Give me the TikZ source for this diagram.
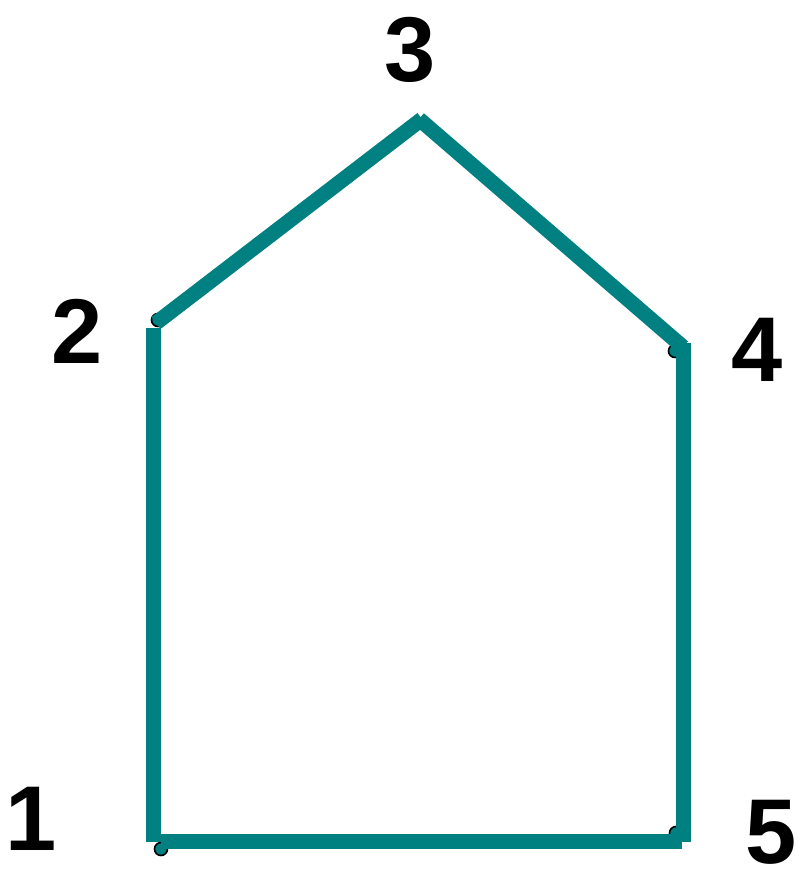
\documentclass[tikz,border=0pt]{standalone}
\usepackage{fontspec}
\setmainfont{Liberation Sans}
\definecolor{teal}{RGB}{0,128,128}
\begin{document}
\begin{tikzpicture}[x=1pt,y=-1pt,
  edge/.style={draw=teal,line width=15pt,line cap=butt},
  vdot/.style={circle,draw=black,fill=teal,line width=1.6pt,minimum size=13pt,inner sep=0pt},
  lbl/.style={font=\fontsize{92}{92}\selectfont\bfseries,inner sep=0pt,text height=66pt,text depth=0pt,anchor=center}]
\useasboundingbox (0,0) rectangle (797,869);
% vertex dots (behind the lines)
\node[vdot] (d1) at (161,849) {};
\node[vdot] (d2) at (158,320) {};
\node[vdot] (d4) at (675,351) {};
\node[vdot] (d5) at (676,833) {};
% segment end points
\coordinate (a1) at (153.5,842);
\coordinate (a2) at (153.5,328);
\coordinate (b2) at (156,323);
\coordinate (b3) at (422,119);
\coordinate (c3) at (419,119);
\coordinate (c4) at (683,347);
\coordinate (e4) at (683,343);
\coordinate (e5) at (683,842);
\coordinate (f5) at (682,841.5);
\coordinate (f1) at (161,841.5);
\draw[edge] (a1) -- (a2);
\draw[edge] (b2) -- (b3);
\draw[edge] (c3) -- (c4);
\draw[edge] (e4) -- (e5);
\draw[edge] (f5) -- (f1);
% labels
\node[lbl] (l1) at (31.5,817) {1};
\node[lbl] (l2) at (77,330) {2};
\node[lbl] (l3) at (410,49) {3};
\node[lbl] (l4) at (757,348) {4};
\node[lbl] (l5) at (771,830) {5};
\end{tikzpicture}
\end{document}
